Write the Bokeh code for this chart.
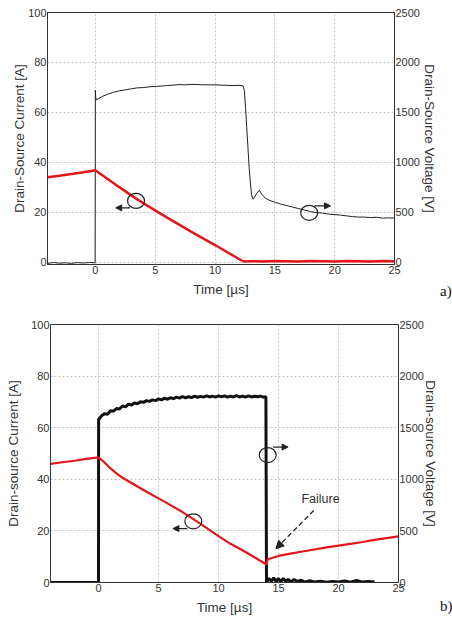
from bokeh.plotting import figure
from bokeh.models import Range1d, LinearAxis, Arrow, NormalHead, Label, FixedTicker, Div
from bokeh.layouts import column, row
from bokeh.embed import file_html
from bokeh.resources import INLINE

# ---------------- data: panel a ----------------
a_vt = [-4, -3.5, -3, -2.5, -2, -1.5, -1, -0.5, -0.02, 0.0, 0.03, 0.08, 0.3, 0.6, 1, 1.5, 2, 2.5, 3,
        3.5, 4, 4.5, 5, 5.5, 6, 6.5, 7, 7.5, 8, 8.5, 9, 9.5, 10, 10.5, 11, 11.5, 12, 12.35, 12.45,
        12.55, 12.65, 12.75, 12.85, 12.95, 13.05, 13.15, 13.3, 13.5, 13.7, 13.9, 14.2, 14.6, 15,
        15.5, 16, 16.5, 17, 17.5, 18, 18.5, 19, 19.5, 20, 20.5, 21, 21.5, 22, 22.5, 23, 23.5, 24,
        24.5, 25]
a_v = [-15, -5, -12, -8, -14, -6, -10, -5, -8, 1720, 1650, 1625, 1640, 1660, 1680, 1700, 1715, 1725,
       1735, 1745, 1748, 1755, 1760, 1762, 1768, 1772, 1778, 1775, 1780, 1778, 1776, 1775, 1775,
       1772, 1770, 1768, 1770, 1765, 1720, 1550, 1350, 1150, 950, 800, 680, 630, 650, 690, 720,
       680, 640, 615, 600, 580, 565, 550, 535, 520, 505, 495, 490, 480, 475, 470, 462, 455, 450,
       450, 445, 448, 440, 442, 440]
a_it = [-4, -3, -2, -1, 0, 1, 2, 3, 4, 5, 6, 7, 8, 9, 10, 11, 12, 12.4, 13, 14, 15, 16, 17, 18, 19,
        20, 21, 22, 23, 24, 25]
a_i = [34.0, 34.6, 35.3, 36.0, 36.8, 33.4, 30.0, 26.7, 23.6, 20.7, 17.8, 15.0, 12.2, 9.5, 6.8, 4.0,
       1.2, 0.2, 0.3, 0.2, 0.4, 0.3, 0.2, 0.4, 0.3, 0.2, 0.4, 0.3, 0.2, 0.4, 0.3]

# ---------------- data: panel b ----------------
b_vt = [-4, 0.0, 0.01, 0.25, 0.5, 0.75, 1.0, 1.25, 1.5, 1.75, 2.0, 2.25, 2.5, 2.75, 3.0, 3.25, 3.5,
        3.75, 4.0, 4.25, 4.5, 4.75, 5.0, 5.25, 5.5, 5.75, 6.0, 6.25, 6.5, 6.75, 7.0, 7.25, 7.5, 7.75,
        8.0, 8.25, 8.5, 8.75, 9.0, 9.25, 9.5, 9.75, 10.0, 10.25, 10.5, 10.75, 11.0, 11.25, 11.5,
        11.75, 12.0, 12.25, 12.5, 12.75, 13.0, 13.25, 13.5, 13.75, 13.95, 14.0, 14.2, 14.4, 14.6,
        14.8, 15.0, 15.2, 15.4, 15.6, 15.8, 16.0, 16.3, 16.6, 16.9, 17.2, 17.6, 18.0, 18.5, 19.0,
        19.5, 20.0, 20.5, 21.0, 21.5, 22.0, 22.5, 23.0, 23.5, 24.0, 24.5, 25.0]
b_v = [0, 0, 1580, 1615, 1635, 1630, 1665, 1660, 1685, 1682, 1710, 1702, 1728, 1720, 1740, 1732,
       1752, 1745, 1762, 1755, 1770, 1762, 1780, 1770, 1786, 1776, 1790, 1782, 1796, 1786, 1802,
       1790, 1800, 1792, 1806, 1795, 1804, 1796, 1808, 1798, 1806, 1796, 1808, 1800, 1808, 1796,
       1806, 1798, 1810, 1798, 1806, 1796, 1808, 1798, 1804, 1800, 1806, 1796, 1800, 0, 40, 12, 45,
       10, 38, 8, 40, 12, 30, 6, 28, 10, 22, 4, 18, 6, 12, 2, 10, 4, 14, 3, 20, 4, 10, 5]
b_it = [-4, -3, -2, -1, 0, 0.5, 1, 1.5, 2, 3, 4, 5, 6, 7, 8, 9, 10, 11, 12, 13, 14, 14.1, 15, 16, 17,
        18, 19, 20, 21, 22, 23, 24, 25]
b_i = [46.0, 46.6, 47.2, 47.9, 48.5, 46.5, 44.2, 42.3, 40.6, 37.9, 35.2, 32.6, 30.0, 27.3, 24.3,
       21.2, 18.0, 15.0, 12.5, 9.8, 7.0, 9.0, 10.3, 11.2, 12.0, 12.8, 13.6, 14.3, 15.0, 15.7, 16.5,
       17.2, 17.9]

x_ticks = [0, 5, 10, 15, 20, 25]
i_ticks = [0, 20, 40, 60, 80, 100]
v_ticks = [0, 500, 1000, 1500, 2000, 2500]

# annotation anchors (in time / current units)
a_circles = [(3.4, 24.5), (17.87, 19.7)]
a_arrows = [(2.9, 21.7, 1.7, 21.7), (18.3, 22.5, 19.65, 22.5)]
b_circles = [(7.9, 23.7), (14.1, 49.4)]
b_arrows = [(7.4, 20.9, 6.2, 20.9), (14.55, 52.5, 15.8, 52.5)]
b_fail_text = (18.5, 32.2)
b_fail_arrow = (17.94, 27.9, 14.78, 13.1)

RED = "#e3161b"
FONT = "Liberation Sans"


def make_fig(w, h, ylo, vlo, borders, ylabel, vlabel, lab_standoff, rlab_standoff):
    l, r, t, b = borders
    p = figure(width=w, height=h, x_range=Range1d(-4, 25), y_range=Range1d(ylo, 100),
               output_backend="svg", toolbar_location=None,
               min_border_left=l, min_border_right=r, min_border_top=t, min_border_bottom=b)
    p.extra_y_ranges = {"v": Range1d(vlo, 2500)}
    p.add_layout(LinearAxis(y_range_name="v", axis_label=vlabel), "right")
    p.background_fill_color = "white"
    p.border_fill_color = "white"
    p.outline_line_color = "#333333"
    p.outline_line_width = 1
    p.xaxis.ticker = FixedTicker(ticks=x_ticks)
    p.yaxis[0].ticker = FixedTicker(ticks=i_ticks)
    p.yaxis[1].ticker = FixedTicker(ticks=v_ticks)
    p.yaxis[0].axis_label = ylabel
    p.xaxis.axis_label = "Time [\u00b5s]"
    for ax in p.xaxis + p.yaxis:
        ax.major_tick_in = 0
        ax.major_tick_out = 0
        ax.minor_tick_in = 0
        ax.minor_tick_out = 0
        ax.major_label_standoff = 1
        ax.axis_line_color = "#333333"
        ax.major_label_text_font = FONT
        ax.major_label_text_font_size = "11px"
        ax.major_label_text_color = "#333333"
        ax.axis_label_text_font = FONT
        ax.axis_label_text_font_size = "13.5px"
        ax.axis_label_text_font_style = "normal"
        ax.axis_label_text_color = "#333333"
    p.yaxis[0].axis_label_standoff = lab_standoff
    p.yaxis[1].axis_label_standoff = rlab_standoff
    p.xaxis.axis_label_standoff = 5
    p.grid.grid_line_color = "#c4c4c4"
    p.grid.grid_line_dash = "2 2"
    p.grid.grid_line_width = 1
    p.ygrid.ticker = FixedTicker(ticks=i_ticks)
    p.xgrid.ticker = FixedTicker(ticks=x_ticks)
    return p


def annotate(p, circles, arrows):
    xs = [c[0] for c in circles]
    ys = [c[1] for c in circles]
    p.ellipse(x=xs, y=ys, width=17, height=15, width_units="screen", height_units="screen",
              fill_color=None, line_color="#222222", line_width=1.2)
    for (x0, y0, x1, y1) in arrows:
        p.add_layout(Arrow(end=NormalHead(size=6, fill_color="#222222", line_color="#222222"),
                           x_start=x0, y_start=y0, x_end=x1, y_end=y1,
                           line_color="#222222", line_width=1.2))


def panel_tag(text, h, top):
    html = ('<div style="position:absolute;left:0px;top:%dpx;font-family:\'Liberation Serif\';'
            'font-size:15px;line-height:15px;white-space:nowrap;color:#111111">%s</div>' % (top, text))
    return Div(text=html, width=12, height=h, margin=0)


# ---------------- panel a ----------------
pa = make_fig(440, 300, -1, -25, (47, 46, 12, 36), "Drain-Source Current [A]",
              "Drain-Source Voltage [V]", -2, -1)
pa.line(a_vt, a_v, y_range_name="v", line_color="#222222", line_width=1)
pa.line(a_it, a_i, line_color=RED, line_width=2.5)
annotate(pa, a_circles, a_arrows)

# ---------------- panel b ----------------
pb = make_fig(440, 320, 0, 0, (50, 42, 24, 38), "Drain-source Current [A]",
              "Drain-source Voltage [V]", 7, -4)
pb.line(b_vt, b_v, y_range_name="v", line_color="#111111", line_width=3)
pb.line(b_it, b_i, line_color=RED, line_width=2.2)
annotate(pb, b_circles, b_arrows)
pb.add_layout(Label(x=b_fail_text[0], y=b_fail_text[1], text="Failure", text_align="center",
                    text_baseline="middle", text_font=FONT, text_font_size="12.5px",
                    text_color="#333333"))
fx0, fy0, fx1, fy1 = b_fail_arrow
pb.add_layout(Arrow(end=NormalHead(size=8, fill_color="#222222", line_color="#222222"),
                    x_start=fx0, y_start=fy0, x_end=fx1, y_end=fy1,
                    line_color="#222222", line_width=1.3, line_dash="5 3"))

layout = column(row(pa, panel_tag("a)", 300, 284)), row(pb, panel_tag("b)", 320, 299)))
open("out.html", "w").write(file_html(layout, INLINE))
